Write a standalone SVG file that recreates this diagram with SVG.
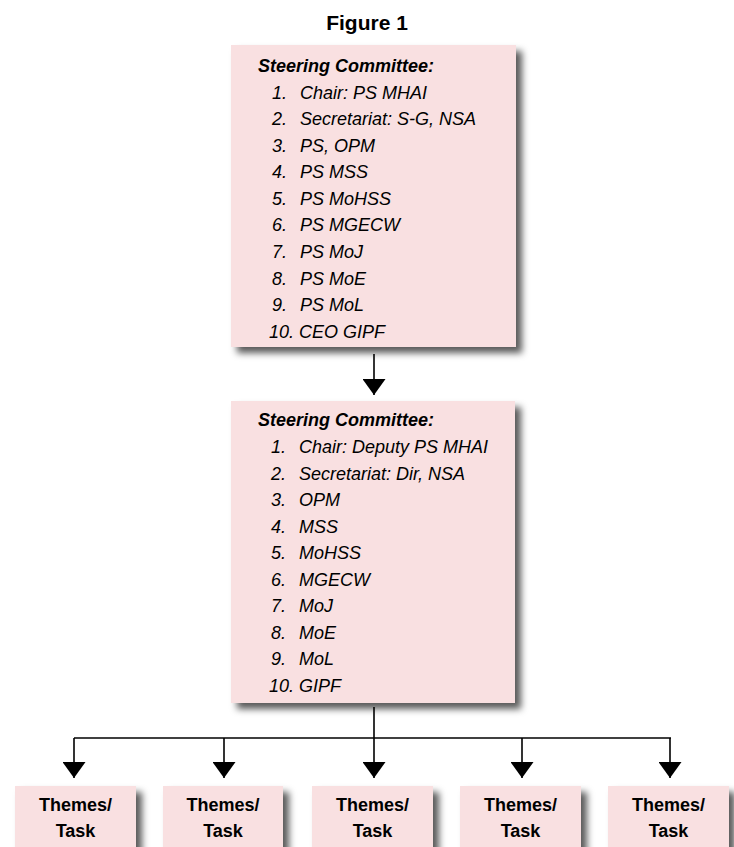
<svg xmlns="http://www.w3.org/2000/svg" width="734" height="847" viewBox="0 0 734 847">
<defs>
<filter id="sh" x="-10%" y="-10%" width="130%" height="130%">
<feDropShadow dx="6" dy="6" stdDeviation="3.5" flood-color="#000" flood-opacity="0.65"/>
</filter>
<marker id="ah" markerWidth="16" markerHeight="23" refX="16" refY="11.5" orient="auto" markerUnits="userSpaceOnUse" viewBox="0 0 16 23">
<polygon points="0,0 16,11.5 0,23" fill="#000"/>
</marker>
</defs>
<style>
.box{fill:#F9E0E1;filter:url(#sh)}
text{font-family:"Liberation Sans",Arial,sans-serif;fill:#000}
.t{font-size:21px;font-weight:bold}
.h{font-size:18px;font-weight:bold;font-style:italic}
.i{font-size:18px;font-style:italic}
.th{font-size:18px;font-weight:bold;text-anchor:middle}
.c{stroke:#000;stroke-width:1.6;fill:none}
</style>
<text class="t" x="367" y="30" text-anchor="middle">Figure 1</text>
<g id="sc1">
<rect class="box" x="231" y="45" width="285" height="302"/>
<text class="h" x="258" y="72">Steering Committee:</text>
<text class="i" x="272" y="99">1.</text><text class="i" x="300" y="99">Chair: PS MHAI</text>
<text class="i" x="272" y="125">2.</text><text class="i" x="300" y="125">Secretariat: S-G, NSA</text>
<text class="i" x="272" y="152">3.</text><text class="i" x="300" y="152">PS, OPM</text>
<text class="i" x="272" y="178">4.</text><text class="i" x="300" y="178">PS MSS</text>
<text class="i" x="272" y="205">5.</text><text class="i" x="300" y="205">PS MoHSS</text>
<text class="i" x="272" y="231">6.</text><text class="i" x="300" y="231">PS MGECW</text>
<text class="i" x="272" y="258">7.</text><text class="i" x="300" y="258">PS MoJ</text>
<text class="i" x="272" y="285">8.</text><text class="i" x="300" y="285">PS MoE</text>
<text class="i" x="272" y="311">9.</text><text class="i" x="300" y="311">PS MoL</text>
<text class="i" x="269" y="338">10. CEO GIPF</text>
</g>
<g id="sc2">
<rect class="box" x="231" y="401" width="284" height="302"/>
<text class="h" x="258" y="426">Steering Committee:</text>
<text class="i" x="271" y="453">1.</text><text class="i" x="299" y="453">Chair: Deputy PS MHAI</text>
<text class="i" x="271" y="480">2.</text><text class="i" x="299" y="480">Secretariat: Dir, NSA</text>
<text class="i" x="271" y="506">3.</text><text class="i" x="299" y="506">OPM</text>
<text class="i" x="271" y="533">4.</text><text class="i" x="299" y="533">MSS</text>
<text class="i" x="271" y="559">5.</text><text class="i" x="299" y="559">MoHSS</text>
<text class="i" x="271" y="586">6.</text><text class="i" x="299" y="586">MGECW</text>
<text class="i" x="271" y="612">7.</text><text class="i" x="299" y="612">MoJ</text>
<text class="i" x="271" y="639">8.</text><text class="i" x="299" y="639">MoE</text>
<text class="i" x="271" y="665">9.</text><text class="i" x="299" y="665">MoL</text>
<text class="i" x="269" y="692">10. GIPF</text>
</g>
<g id="t1"><rect class="box" x="15" y="786" width="121" height="80"/><text class="th" x="75.5" y="811">Themes/</text><text class="th" x="75.5" y="837">Task</text></g>
<g id="t2"><rect class="box" x="163" y="786" width="120" height="80"/><text class="th" x="223" y="811">Themes/</text><text class="th" x="223" y="837">Task</text></g>
<g id="t3"><rect class="box" x="312" y="786" width="121" height="80"/><text class="th" x="372.5" y="811">Themes/</text><text class="th" x="372.5" y="837">Task</text></g>
<g id="t4"><rect class="box" x="460" y="786" width="121" height="80"/><text class="th" x="520.5" y="811">Themes/</text><text class="th" x="520.5" y="837">Task</text></g>
<g id="t5"><rect class="box" x="608" y="786" width="121" height="80"/><text class="th" x="668.5" y="811">Themes/</text><text class="th" x="668.5" y="837">Task</text></g>
<g id="connectors">
<line class="c" x1="374" y1="354" x2="374" y2="395" marker-end="url(#ah)"/>
<line class="c" x1="374" y1="707" x2="374" y2="738"/>
<line class="c" x1="74" y1="738" x2="671" y2="738"/>
<line class="c" x1="74" y1="738" x2="74" y2="778" marker-end="url(#ah)"/>
<line class="c" x1="224" y1="738" x2="224" y2="778" marker-end="url(#ah)"/>
<line class="c" x1="374" y1="738" x2="374" y2="778" marker-end="url(#ah)"/>
<line class="c" x1="522" y1="738" x2="522" y2="778" marker-end="url(#ah)"/>
<line class="c" x1="670" y1="738" x2="670" y2="778" marker-end="url(#ah)"/>
</g>
</svg>
